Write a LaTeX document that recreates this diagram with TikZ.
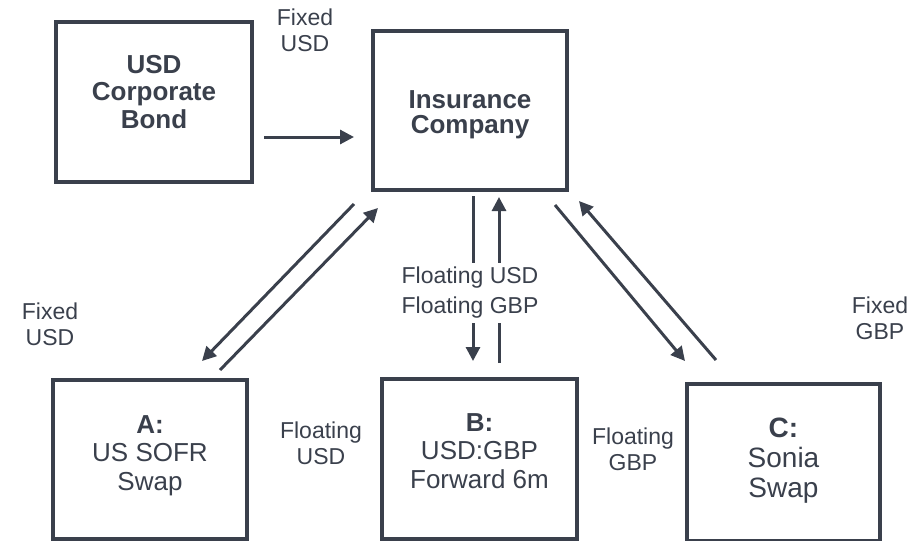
\documentclass[tikz,border=0pt]{standalone}
\usepackage{fontspec}
\setmainfont{Liberation Sans}
\usetikzlibrary{arrows.meta,calc}
\definecolor{ink}{HTML}{3A404C}
\tikzset{
  box/.style={draw=ink, line width=4pt, fill=white, inner sep=0pt},
  flow/.style={draw=ink, line width=3pt, -{Triangle[length=14pt,width=14pt]}},
  boxtext/.style={text=ink, align=center, anchor=north, inner sep=0pt},
  lbl/.style={text=ink, align=center, anchor=north, inner sep=0pt,
    font=\fontsize{23}{25.5}\selectfont},
}
\begin{document}
\begin{tikzpicture}[x=1pt,y=-1pt]
\useasboundingbox (0,0) rectangle (922,541);
\clip (0,0) rectangle (922,541);

% boxes
\node[box, minimum width=196pt, minimum height=160pt] (bond) at (154,102) {};
\node[box, minimum width=194pt, minimum height=159pt] (ins) at (470,110.5) {};
\node[box, minimum width=194pt, minimum height=159pt] (swapA) at (150,459.5) {};
\node[box, minimum width=195pt, minimum height=160pt] (fwdB) at (479.5,459) {};
\node[box, minimum width=193pt, minimum height=157pt] (swapC) at (783.5,462.5) {};

% box captions
\node[boxtext, font=\fontsize{26}{27.5}\selectfont\bfseries] (bondtxt) at (154,55)
  {USD\\Corporate\\Bond};
\node[boxtext, font=\fontsize{26}{25}\selectfont\bfseries] (instxt) at (470,90)
  {Insurance\\Company};
\node[boxtext, font=\fontsize{26}{28.5}\selectfont] (swapAtxt) at (150,415)
  {\textbf{A:}\\US SOFR\\Swap};
\node[boxtext, font=\fontsize{26}{28.5}\selectfont] (fwdBtxt) at (479.5,413)
  {\textbf{B:}\\USD:GBP\\Forward 6m};
\node[boxtext, font=\fontsize{28}{30}\selectfont] (swapCtxt) at (783.5,418)
  {\textbf{C:}\\Sonia\\Swap};

% cash flows
\draw[flow] ($(bond.east)+(10,35)$) -- ($(ins.west)+(-17,26.5)$);

\draw[flow] ($(ins.south west)+(-17,12)$) -- ($(swapA.north east)+(-47,-17)$);
\draw[flow] ($(swapA.north east)+(-29,-8)$) -- ($(ins.south west)+(7,16)$);

\draw[flow] ($(ins.south)+(3,4)$) -- ($(fwdB.north)+(-6.5,-16)$);
\draw[flow] ($(fwdB.north)+(19.5,-14)$) -- ($(ins.south)+(29,5)$);

\draw[flow] ($(ins.south east)+(-14,13)$) -- ($(swapC.north west)+(0,-21)$);
\draw[flow] ($(swapC.north west)+(31,-22)$) -- ($(ins.south east)+(10,9)$);

% flow labels
\node[lbl] (lblBond) at (305,9) {Fixed\\USD};
\node[lbl] (lblFixA) at (50,303) {Fixed\\USD};
\node[lbl] (lblFloatA) at (321,422) {Floating\\USD};
\node[lbl, fill=white, inner sep=4pt, font=\fontsize{23}{30}\selectfont] (lblB)
  at (470,263) {Floating USD\\Floating GBP};
\node[lbl] (lblFloatC) at (633,428) {Floating\\GBP};
\node[lbl] (lblFixC) at (880,297) {Fixed\\GBP};
\end{tikzpicture}
\end{document}
